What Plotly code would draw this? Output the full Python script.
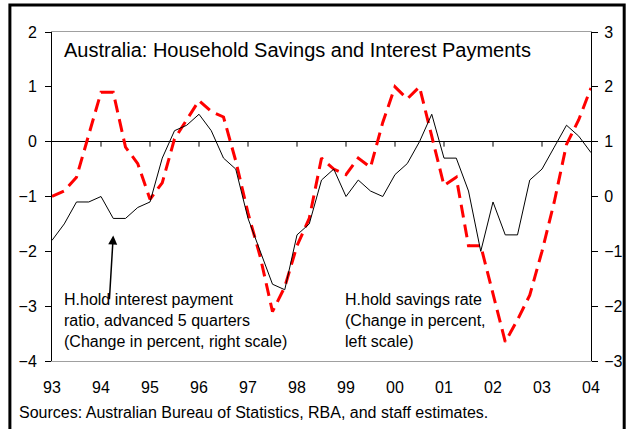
import plotly.graph_objects as go

# Quarterly observations, 1993Q1 .. 2004Q1
quarters = [1993 + i * 0.25 for i in range(45)]

# Household savings rate, change in percent (left scale)
savings_rate = [
    -1.0, -0.9, -0.65, 0.15, 0.9, 0.9, -0.1, -0.4, -1.05,
    -0.75, 0.05, 0.4, 0.75, 0.55, 0.45, -0.35, -1.3, -2.1,
    -3.1, -2.65, -1.9, -1.4, -0.3, -0.5, -0.6, -0.3, -0.47,
    0.35, 1.0, 0.78, 1.0, 0.1, -0.8, -0.65, -1.9, -1.9,
    -2.75, -3.65, -3.25, -2.8, -2.0, -1.1, -0.05, 0.4, 0.98,
]

# Household interest payment ratio, advanced 5 quarters, change in percent (right scale)
interest_ratio = [
    -0.8, -0.5, -0.1, -0.1, 0.0, -0.4, -0.4, -0.2, -0.1,
    0.7, 1.2, 1.3, 1.5, 1.2, 0.7, 0.5, -0.4, -1.0,
    -1.6, -1.7, -0.7, -0.5, 0.3, 0.5, 0.0, 0.3, 0.1,
    0.0, 0.4, 0.6, 1.0, 1.5, 0.7, 0.7, 0.1, -1.0,
    -0.1, -0.7, -0.7, 0.3, 0.5, 0.9, 1.3, 1.1, 0.8,
]

year_ticks = list(range(1993, 2005))
year_labels = ["93", "94", "95", "96", "97", "98", "99", "00", "01", "02", "03", "04"]
left_ticks = [-4, -3, -2, -1, 0, 1, 2]
right_ticks = [-3, -2, -1, 0, 1, 2, 3]

FONT = "Arial, Liberation Sans, sans-serif"

fig = go.Figure()

fig.add_trace(go.Scatter(
    x=quarters, y=interest_ratio, yaxis="y2", mode="lines",
    line=dict(color="black", width=1), showlegend=False,
))
fig.add_trace(go.Scatter(
    x=quarters, y=savings_rate, yaxis="y", mode="lines",
    line=dict(color="#ff0000", width=3, dash="13px,7px"), showlegend=False,
))

# Year tick marks hanging below the zero line
for yr in year_ticks[1:-1]:
    fig.add_shape(
        type="line", xref="x", yref="y", x0=yr, x1=yr,
        ysizemode="pixel", yanchor=0, y0=0, y1=-5,
        line=dict(color="black", width=1),
    )

# Outer frame around the whole exhibit
fig.add_shape(
    type="rect", xref="paper", yref="paper",
    x0=-42.5 / 544, x1=577.5 / 544, y0=-80 / 329, y1=356 / 329,
    line=dict(color="black", width=3), fillcolor="rgba(0,0,0,0)",
)

fig.add_annotation(
    xref="paper", yref="paper", x=10 / 544, y=(361 - 50) / 329,
    xanchor="left", yanchor="middle", showarrow=False,
    text="Australia: Household Savings and Interest Payments",
    font=dict(family=FONT, size=20, color="black"),
)
fig.add_annotation(
    xref="paper", yref="paper", x=10 / 544, y=(361 - 320) / 329,
    xanchor="left", yanchor="middle", showarrow=False, align="left",
    text="H.hold interest payment<br>ratio, advanced 5 quarters<br>(Change in percent, right scale)",
    font=dict(family=FONT, size=16, color="black"),
)
fig.add_annotation(
    xref="paper", yref="paper", x=294 / 544, y=(361 - 320) / 329,
    xanchor="left", yanchor="middle", showarrow=False, align="left",
    text="H.hold savings rate<br>(Change in percent,<br>left scale)",
    font=dict(family=FONT, size=16, color="black"),
)
fig.add_annotation(
    xref="x", yref="y", x=1994.25, y=-1.71,
    axref="x", ayref="y", ax=1994.17, ay=-2.9,
    text="", showarrow=True, arrowhead=2, arrowsize=1.2, arrowwidth=1.5,
    arrowcolor="black", standoff=0,
)
fig.add_annotation(
    xref="paper", yref="paper", x=-35 / 544, y=(361 - 412) / 329,
    xanchor="left", yanchor="middle", showarrow=False,
    text="Sources: Australian Bureau of Statistics, RBA, and staff estimates.",
    font=dict(family=FONT, size=16, color="black"),
)

fig.update_layout(
    width=635, height=429,
    margin=dict(l=52, r=39, t=32, b=68),
    paper_bgcolor="white", plot_bgcolor="white",
    font=dict(family=FONT, size=16, color="black"),
    xaxis=dict(
        range=[1993, 2004], tickvals=year_ticks, ticktext=year_labels,
        showgrid=False, zeroline=False,
        showline=True, mirror=True, linecolor="#a0a0a0", linewidth=1,
        ticks="outside", ticklen=12, tickcolor="rgba(0,0,0,0)",
        tickfont=dict(family=FONT, size=16),
    ),
    yaxis=dict(
        range=[-4, 2], tickvals=left_ticks, showgrid=False,
        zeroline=True, zerolinecolor="black", zerolinewidth=1,
        showline=True, linecolor="black", linewidth=1,
        ticks="outside", ticklen=6, tickcolor="black", ticklabelstandoff=5,
        tickfont=dict(family=FONT, size=16),
    ),
    yaxis2=dict(
        range=[-3, 3], tickvals=right_ticks, overlaying="y", side="right",
        showgrid=False, zeroline=False,
        showline=True, linecolor="black", linewidth=1,
        ticks="outside", ticklen=6, tickcolor="black", ticklabelstandoff=3,
        tickfont=dict(family=FONT, size=16),
    ),
)

fig.write_html("out.html")
